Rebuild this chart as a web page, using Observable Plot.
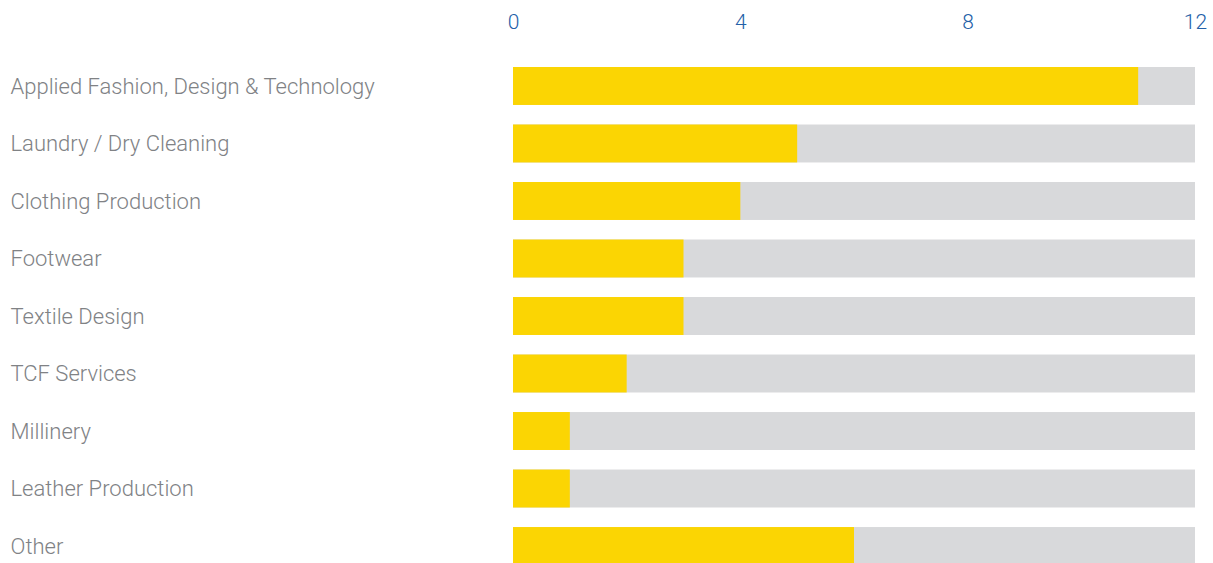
<!DOCTYPE html>
<html>
<head>
<meta charset="utf-8">
<script src="https://cdn.jsdelivr.net/npm/d3@7"></script>
<script src="https://cdn.jsdelivr.net/npm/@observablehq/plot@0.6"></script>
<style>
  html, body { margin: 0; padding: 0; background: #fff; }
  #chart svg { display: block; }
</style>
</head>
<body>
<div id="chart"></div>
<script>
const categories = [
  "Applied Fashion, Design & Technology",
  "Laundry / Dry Cleaning",
  "Clothing Production",
  "Footwear",
  "Textile Design",
  "TCF Services",
  "Millinery",
  "Leather Production",
  "Other"
];
const values = [11, 5, 4, 3, 3, 2, 1, 1, 6];
const maxValue = 12;
const xTicks = [0, 4, 8, 12];

const rows = categories.map((c, i) => ({category: c, value: values[i], total: maxValue}));

const chart = Plot.plot({
  width: 1213,
  height: 565,
  marginLeft: 513,
  marginRight: 18,
  marginTop: 67,
  marginBottom: 0,
  style: {fontFamily: "Roboto, 'Open Sans', sans-serif", background: "#fff"},
  x: {domain: [0, maxValue]},
  y: {domain: categories, paddingInner: 0.34, paddingOuter: 0, round: false},
  marks: [
    Plot.barX(rows, {y: "category", x: "total", fill: "#D8D9DB"}),
    Plot.barX(rows, {y: "category", x: "value", fill: "#FBD503"}),
    Plot.axisX({anchor: "top", ticks: xTicks, tickSize: 0, tickPadding: 39, label: null,
      fontSize: 21, fill: "#2360A8", fontWeight: 300}),
    Plot.axisY({anchor: "left", tickSize: 0, tickPadding: 503, textAnchor: "start", label: null,
      fontSize: 22, fill: "#808285", fontWeight: 300})
  ]
});
document.getElementById("chart").appendChild(chart);
</script>
</body>
</html>
